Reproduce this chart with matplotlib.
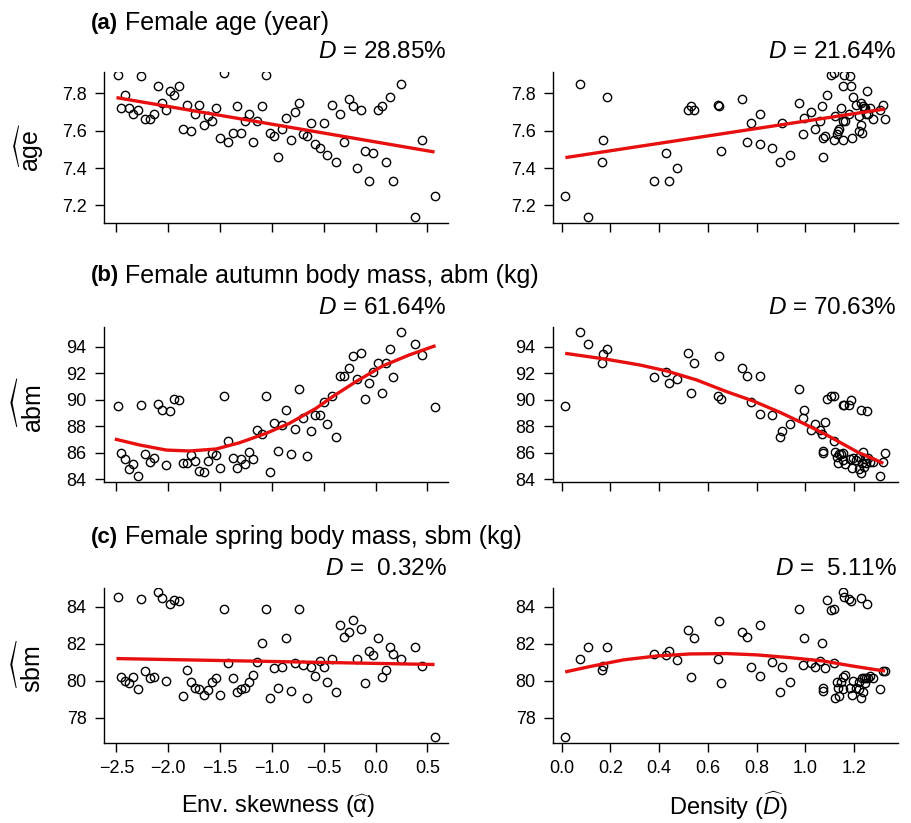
import matplotlib
matplotlib.use("Agg")
import matplotlib.pyplot as plt

plt.rcParams["font.family"] = ["Liberation Sans", "DejaVu Sans"]
plt.rcParams["mathtext.fontset"] = "custom"
plt.rcParams["mathtext.rm"] = "Liberation Sans"
plt.rcParams["mathtext.it"] = "Liberation Sans:italic"
plt.rcParams["mathtext.bf"] = "Liberation Sans:bold"
plt.rcParams["axes.linewidth"] = 1.0

# ---- data ----
# environmental skewness (left column), same years in all three rows
skew = [-2.49, -2.46, -2.42, -2.38, -2.34, -2.29, -2.26, -2.22, -2.18, -2.14,
        -2.10, -2.06, -2.02, -1.98, -1.94, -1.90, -1.86, -1.82, -1.78, -1.74,
        -1.70, -1.66, -1.62, -1.58, -1.54, -1.50, -1.46, -1.42, -1.38, -1.34,
        -1.30, -1.26, -1.22, -1.18, -1.14, -1.10, -1.06, -1.02, -0.98, -0.94,
        -0.90, -0.86, -0.82, -0.78, -0.74, -0.70, -0.66, -0.62, -0.58, -0.54,
        -0.50, -0.47, -0.42, -0.38, -0.34, -0.30, -0.26, -0.22, -0.18, -0.14,
        -0.10, -0.06, -0.02, 0.02, 0.06, 0.10, 0.14, 0.17, 0.25, 0.38,
        0.45, 0.57]
age_skew = [7.90, 7.72, 7.79, 7.72, 7.69, 7.71, 7.89, 7.66, 7.66, 7.69,
            7.84, 7.75, 7.71, 7.81, 7.79, 7.84, 7.61, 7.74, 7.60, 7.69,
            7.74, 7.63, 7.68, 7.65, 7.72, 7.56, 7.91, 7.54, 7.59, 7.73,
            7.59, 7.65, 7.69, 7.54, 7.65, 7.73, 7.90, 7.59, 7.57, 7.46,
            7.61, 7.67, 7.55, 7.70, 7.75, 7.58, 7.57, 7.64, 7.53, 7.51,
            7.64, 7.47, 7.74, 7.43, 7.69, 7.54, 7.77, 7.73, 7.40, 7.71,
            7.49, 7.33, 7.48, 7.71, 7.73, 7.43, 7.78, 7.33, 7.85, 7.14,
            7.55, 7.25]
abm_skew = [89.55, 86.01, 85.51, 84.75, 85.16, 84.25, 89.60, 85.93, 85.28, 85.63,
            89.65, 89.23, 85.08, 89.15, 90.06, 90.01, 85.21, 85.23, 85.83, 85.38,
            84.65, 84.55, 85.38, 85.96, 85.81, 84.88, 90.31, 86.91, 85.63, 84.85,
            85.53, 85.18, 86.09, 85.56, 87.69, 87.44, 90.31, 84.55, 88.27, 86.16,
            88.12, 89.23, 85.93, 87.77, 90.81, 88.65, 85.73, 87.64, 88.87, 88.82,
            89.80, 88.15, 90.31, 87.22, 91.81, 91.81, 92.37, 93.32, 91.56, 93.55,
            90.06, 91.26, 92.07, 92.74, 90.48, 92.77, 93.82, 91.74, 95.13, 94.23,
            93.37, 89.48]
sbm_skew = [84.50, 80.20, 79.98, 79.89, 80.22, 79.57, 84.41, 80.52, 80.13, 80.20,
            84.76, 84.47, 80.00, 84.14, 84.38, 84.32, 79.17, 80.56, 79.95, 79.60,
            79.57, 79.24, 79.50, 79.95, 80.16, 79.24, 83.86, 80.94, 80.13, 79.39,
            79.53, 79.60, 79.91, 80.31, 81.01, 82.04, 83.86, 79.06, 80.67, 79.59,
            80.76, 82.32, 79.44, 80.97, 83.89, 80.83, 79.06, 80.76, 80.27, 81.05,
            80.76, 79.93, 81.19, 79.37, 82.99, 82.36, 82.63, 83.26, 81.15, 82.77,
            79.87, 81.60, 81.37, 82.32, 80.20, 80.56, 81.82, 81.44, 81.19, 81.82,
            80.78, 76.94]

# density (right column)
density = [0.015, 0.075, 0.109, 0.164, 0.170, 0.186, 0.378, 0.428, 0.442, 0.473,
           0.520, 0.531, 0.543, 0.643, 0.647, 0.653, 0.740, 0.762, 0.776, 0.814,
           0.814, 0.863, 0.895, 0.906, 0.936, 0.975, 0.990, 0.996, 1.021, 1.041,
           1.060, 1.070, 1.074, 1.074, 1.082, 1.090, 1.104, 1.118, 1.118, 1.123,
           1.129, 1.133, 1.140, 1.146, 1.153, 1.156, 1.156, 1.159, 1.163, 1.181,
           1.183, 1.186, 1.190, 1.197, 1.208, 1.218, 1.222, 1.227, 1.230, 1.233,
           1.238, 1.242, 1.246, 1.249, 1.252, 1.259, 1.265, 1.276, 1.306, 1.320,
           1.326]
age_dens = [7.25, 7.85, 7.14, 7.43, 7.55, 7.78, 7.33, 7.48, 7.33, 7.40,
            7.71, 7.73, 7.71, 7.74, 7.73, 7.49, 7.77, 7.54, 7.64, 7.69,
            7.53, 7.51, 7.43, 7.64, 7.47, 7.75, 7.58, 7.67, 7.70, 7.61,
            7.65, 7.73, 7.56, 7.46, 7.57, 7.79, 7.90, 7.91, 7.55, 7.68,
            7.58, 7.60, 7.61, 7.72, 7.65, 7.55, 7.84, 7.90, 7.65, 7.69,
            7.89, 7.84, 7.56, 7.78, 7.74, 7.68, 7.60, 7.75, 7.63, 7.59,
            7.73, 7.72, 7.72, 7.69, 7.81, 7.69, 7.72, 7.66, 7.71, 7.74,
            7.66]
abm_dens = [89.50, 95.13, 94.23, 92.77, 93.42, 93.82, 91.71, 92.07, 91.26, 91.54,
            93.55, 90.48, 92.74, 90.31, 93.32, 90.03, 92.39, 91.81, 89.80, 91.79,
            88.90, 88.82, 87.22, 87.64, 88.15, 90.81, 88.65, 89.23, 87.74, 88.15,
            87.74, 87.39, 86.14, 85.96, 88.30, 90.06, 90.26, 90.28, 86.91, 86.09,
            85.71, 85.21, 85.88, 85.91, 85.46, 89.63, 86.01, 89.58, 85.13, 89.58,
            85.51, 90.01, 84.88, 85.63, 85.48, 84.75, 85.66, 89.23, 84.50, 85.21,
            86.04, 84.95, 85.51, 85.21, 89.15, 85.58, 85.28, 85.33, 84.25, 85.28,
            85.96]
sbm_dens = [76.94, 81.17, 81.82, 80.56, 80.81, 81.82, 81.44, 81.39, 81.59, 81.14,
            82.76, 80.20, 82.32, 81.17, 83.24, 79.87, 82.65, 82.36, 80.76, 82.99,
            80.27, 81.03, 79.39, 80.76, 79.93, 83.89, 80.85, 82.32, 80.94, 80.76,
            81.06, 82.04, 79.59, 79.44, 80.67, 84.38, 83.84, 83.86, 80.95, 79.05,
            79.91, 79.59, 79.19, 79.95, 80.20, 84.76, 79.57, 84.52, 80.31, 84.40,
            79.59, 84.32, 79.23, 79.98, 79.59, 79.55, 79.95, 84.47, 79.06, 80.13,
            79.41, 80.16, 79.89, 80.16, 84.16, 80.16, 80.25, 80.16, 79.57, 80.52,
            80.54]

# fitted curves
fit_age_skew_x = [-2.50, 0.57]
fit_age_skew_y = [7.777, 7.486]
fit_age_dens_x = [0.015, 1.326]
fit_age_dens_y = [7.456, 7.716]
fit_abm_skew_x = [-2.516, -2.275, -2.019, -1.794, -1.538, -1.313, -1.056,
                  -0.832, -0.575, -0.415, -0.19, 0.067, 0.323, 0.58]
fit_abm_skew_y = [87.04, 86.59, 86.21, 86.14, 86.29, 86.76, 87.47,
                  88.22, 89.35, 90.23, 91.36, 92.54, 93.37, 94.08]
fit_abm_dens_x = [0.014, 0.185, 0.321, 0.431, 0.554, 0.677, 0.787,
                  0.896, 0.992, 1.088, 1.211, 1.320]
fit_abm_dens_y = [93.50, 93.05, 92.62, 92.17, 91.49, 90.61, 89.90,
                  89.05, 88.22, 87.34, 86.09, 85.21]
fit_sbm_skew_x = [-2.50, 0.57]
fit_sbm_skew_y = [81.19, 80.87]
fit_sbm_dens_x = [0.014, 0.116, 0.253, 0.390, 0.527, 0.677, 0.800,
                  0.937, 1.074, 1.183, 1.279, 1.327]
fit_sbm_dens_y = [80.47, 80.76, 81.12, 81.33, 81.44, 81.46, 81.39,
                  81.24, 81.06, 80.81, 80.61, 80.52]

panel_tags = ["(a)", "(b)", "(c)"]
titles = ["Female age (year)",
          "Female autumn body mass, abm (kg)",
          "Female spring body mass, sbm (kg)"]
ylabels = [r"$\widehat{\mathrm{age}}$", r"$\widehat{\mathrm{abm}}$",
           r"$\widehat{\mathrm{sbm}}$"]
dev_left = [r"$D$ = 28.85%", r"$D$ = 61.64%", r"$D$ =  0.32%"]
dev_right = [r"$D$ = 21.64%", r"$D$ = 70.63%", r"$D$ =  5.11%"]
yticks = [[7.2, 7.4, 7.6, 7.8], [84, 86, 88, 90, 92, 94], [78, 80, 82, 84]]
ylims = [(7.106, 7.914), (83.8, 95.48), (76.63, 85.0)]
skew_ticks = [-2.5, -2.0, -1.5, -1.0, -0.5, 0.0, 0.5]
dens_ticks = [0.0, 0.2, 0.4, 0.6, 0.8, 1.0, 1.2]


def fmt(v):
    # R-style labels with a real minus sign
    s = "%g" % v if isinstance(v, int) else "%.1f" % v
    return s.replace("-", "\u2212")


def draw_panel(ax, x, y, fx, fy, xlim, ylim, xt, yt, show_xlabels):
    ax.plot(x, y, "o", mfc="none", mec="black", ms=6, mew=1.0, zorder=2)
    ax.plot(fx, fy, color="#e8100f", lw=2.4, zorder=3, solid_capstyle="butt")
    ax.set_xlim(*xlim)
    ax.set_ylim(*ylim)
    ax.set_xticks(xt)
    ax.set_yticks(yt)
    ax.spines["top"].set_visible(False)
    ax.spines["right"].set_visible(False)
    ax.tick_params(direction="out", length=6.5, width=1.0, labelsize=13, pad=6)
    if show_xlabels:
        ax.set_xticklabels([fmt(v) for v in xt])
    else:
        ax.set_xticklabels([])
    ax.set_yticklabels([fmt(v) for v in yt])


fig = plt.figure(figsize=(9.11, 8.23), dpi=100)

rows = [(0.729, 0.1835), (0.4143, 0.1883), (0.0972, 0.1883)]
left_y = [age_skew, abm_skew, sbm_skew]
right_y = [age_dens, abm_dens, sbm_dens]
fits_left = [(fit_age_skew_x, fit_age_skew_y), (fit_abm_skew_x, fit_abm_skew_y),
             (fit_sbm_skew_x, fit_sbm_skew_y)]
fits_right = [(fit_age_dens_x, fit_age_dens_y), (fit_abm_dens_x, fit_abm_dens_y),
              (fit_sbm_dens_x, fit_sbm_dens_y)]
title_y = [23, 276, 537]
dev_y = [52, 308, 569]

for i in range(3):
    y0, h = rows[i]
    axl = fig.add_axes([0.1142, y0, 0.3776, h])
    axr = fig.add_axes([0.607, y0, 0.3787, h])
    last = i == 2
    draw_panel(axl, skew, left_y[i], fits_left[i][0], fits_left[i][1],
               (-2.62, 0.70), ylims[i], skew_ticks, yticks[i], last)
    draw_panel(axr, density, right_y[i], fits_right[i][0], fits_right[i][1],
               (-0.036, 1.38), ylims[i], dens_ticks, yticks[i], last)

    ty = 1 - title_y[i] / 823
    fig.text(91 / 911, ty, panel_tags[i], fontsize=16, fontweight="bold",
             ha="left", va="center")
    fig.text(125 / 911, ty, titles[i], fontsize=18, ha="left", va="center")
    fig.text(447 / 911, 1 - dev_y[i] / 823, dev_left[i], fontsize=17.5,
             ha="right", va="center")
    fig.text(897 / 911, 1 - dev_y[i] / 823, dev_right[i], fontsize=17.5,
             ha="right", va="center")
    fig.text(30 / 911, (y0 + h / 2), ylabels[i], fontsize=18, rotation=90,
             ha="center", va="center")

# x-axis titles under the bottom row
fig.text(278 / 911, 1 - 806 / 823, r"Env. skewness ($\widehat{\mathrm{\alpha}}$)",
         fontsize=17, ha="center", va="center")
fig.text(728 / 911, 1 - 806 / 823, r"Density ($\widehat{D}$)",
         fontsize=17, ha="center", va="center")

fig.savefig("out.png", dpi=100)
